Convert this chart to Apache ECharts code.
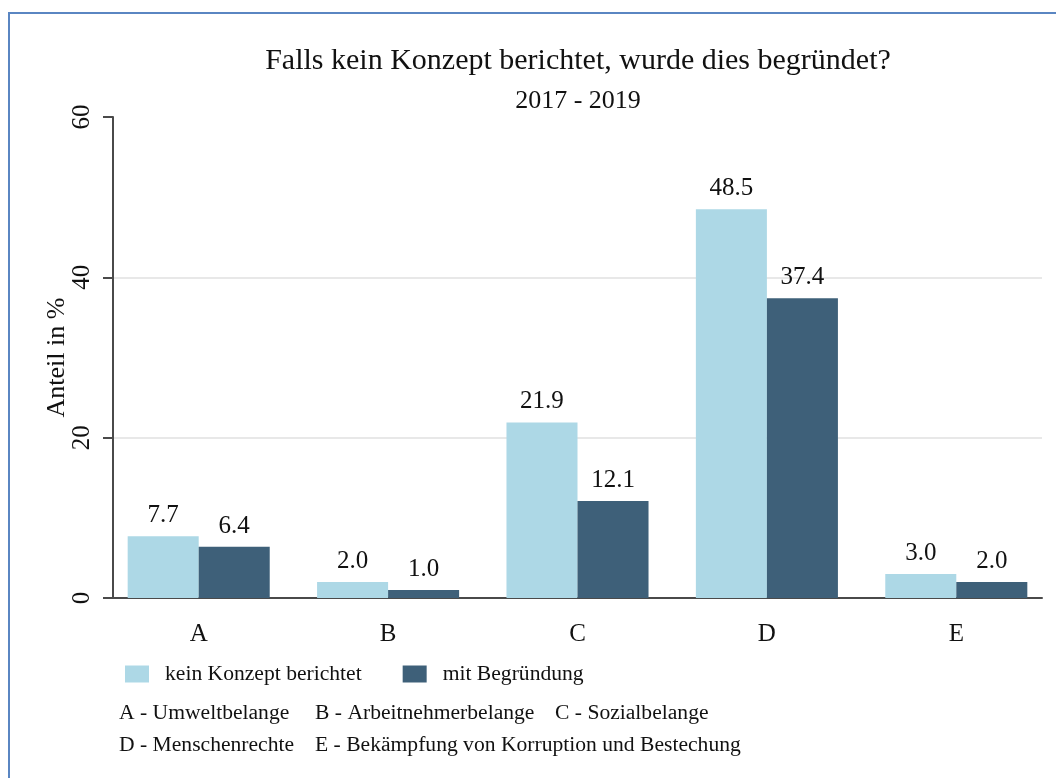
<!DOCTYPE html>
<html>
<head>
<meta charset="utf-8">
<script src="https://cdn.jsdelivr.net/npm/echarts@6/dist/echarts.min.js"></script>
<style>
  html, body { margin: 0; padding: 0; background: #fff; }
  #chart { width: 1056px; height: 778px; }
  #frame { position: absolute; left: 8px; top: 12px; width: 1100px; height: 800px;
           border-left: 2px solid #5a86c2; border-top: 2px solid #5a86c2; pointer-events: none; }
</style>
</head>
<body>
<div id="chart"></div>
<div id="frame"></div>
<script>
// Kategorien und Werte (Anteil in %)
const categories = ['A', 'B', 'C', 'D', 'E'];
const keinKonzept = [7.7, 2.0, 21.9, 48.5, 3.0];
const mitBegruendung = [6.4, 1.0, 12.1, 37.4, 2.0];
const seriesNames = ['kein Konzept berichtet', 'mit Begründung'];
const yTicks = [0, 20, 40, 60];
const notesRow1 = ['A - Umweltbelange', 'B - Arbeitnehmerbelange', 'C - Sozialbelange'];
const notesRow2 = ['D - Menschenrechte', 'E - Bekämpfung von Korruption und Bestechung'];

const serif = '"Liberation Serif", "DejaVu Serif", serif';
const colors = ['#add8e6', '#3e6079'];
const axisColor = '#4a4a4a';

const chart = echarts.init(document.getElementById('chart'));

const noteX = [114, 310, 550];
const titles = [
  { text: 'Falls kein Konzept berichtet, wurde dies begründet?', left: 573, top: 41, textAlign: 'center',
    textStyle: { fontFamily: serif, fontSize: 30, fontWeight: 'normal', color: '#111' } },
  { text: '2017 - 2019', left: 573, top: 83, textAlign: 'center',
    textStyle: { fontFamily: serif, fontSize: 26, fontWeight: 'normal', color: '#111' } }
];
notesRow1.forEach((t, i) => titles.push({ text: t, left: noteX[i], top: 697,
  textStyle: { fontFamily: serif, fontSize: 21.6, fontWeight: 'normal', color: '#111' } }));
notesRow2.forEach((t, i) => titles.push({ text: t, left: noteX[i], top: 729,
  textStyle: { fontFamily: serif, fontSize: 21.6, fontWeight: 'normal', color: '#111' } }));

const labelStyle = {
  show: true, position: 'top', distance: 8,
  fontFamily: serif, fontSize: 25, color: '#111',
  formatter: p => p.value.toFixed(1)
};

const option = {
  animation: false,
  color: colors,
  title: titles,
  legend: {
    left: 120, top: 658,
    itemWidth: 24, itemHeight: 17, itemGap: 41,
    icon: 'rect',
    textStyle: { fontFamily: serif, fontSize: 21.6, color: '#111', padding: [0, 0, 0, 11] },
    data: seriesNames
  },
  grid: [
    // Achsen-Rahmen
    { left: 113, right: 14, top: 117, bottom: 180 },
    // Balken
    { left: 104, right: 5, top: 117, bottom: 180 }
  ],
  xAxis: [
    { gridIndex: 0, type: 'value', min: 0, max: 1, axisLabel: { show: false }, axisTick: { show: false },
      splitLine: { show: false }, axisLine: { show: true, lineStyle: { color: axisColor, width: 2 } } },
    { gridIndex: 1, type: 'category', data: categories,
      axisLine: { show: false }, axisTick: { show: false },
      axisLabel: { margin: 24, fontFamily: serif, fontSize: 25, color: '#111' } }
  ],
  yAxis: [
    { gridIndex: 0, type: 'value', min: yTicks[0], max: yTicks[yTicks.length - 1], interval: 20,
      name: 'Anteil in %', nameLocation: 'middle', nameGap: 43, nameMoveOverlap: false,
      nameTextStyle: { fontFamily: serif, fontSize: 26, color: '#111' },
      axisLine: { show: true, lineStyle: { color: axisColor, width: 2 } },
      axisTick: { show: true, length: 10, lineStyle: { color: axisColor, width: 2 } },
      axisLabel: { rotate: 90, margin: 18, fontFamily: serif, fontSize: 25, color: '#111' },
      splitLine: { show: true, lineStyle: { color: ['rgba(0,0,0,0)', '#e8e8e8', '#e8e8e8', 'rgba(0,0,0,0)'], width: 2 } } },
    { gridIndex: 1, type: 'value', min: yTicks[0], max: yTicks[yTicks.length - 1], show: false }
  ],
  series: [
    { name: seriesNames[0], type: 'bar', xAxisIndex: 1, yAxisIndex: 1, data: keinKonzept,
      barGap: '0%', barCategoryGap: '25%', label: labelStyle },
    { name: seriesNames[1], type: 'bar', xAxisIndex: 1, yAxisIndex: 1, data: mitBegruendung,
      barGap: '0%', barCategoryGap: '25%', label: labelStyle }
  ]
};

chart.setOption(option);
</script>
</body>
</html>
